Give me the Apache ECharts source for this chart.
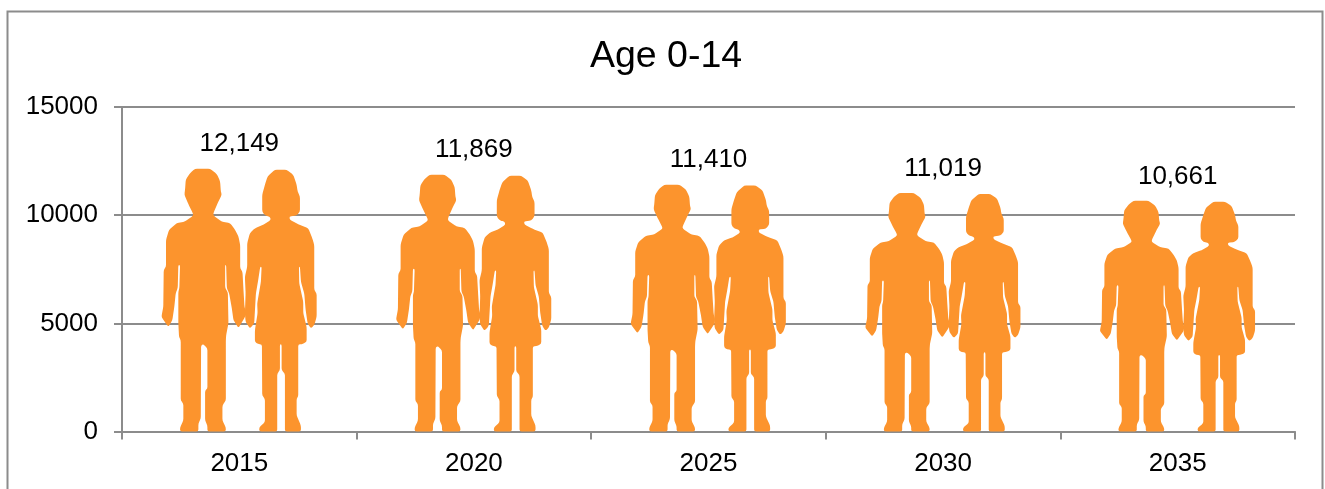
<!DOCTYPE html>
<html>
<head>
<meta charset="utf-8">
<style>html,body{margin:0;padding:0;background:#fff}#chart{width:1325px;height:489px}</style>
<script src="https://cdn.jsdelivr.net/npm/echarts@6/dist/echarts.min.js"></script>
</head>
<body>
<div id="chart"></div>
<script>
const years = ['2015', '2020', '2025', '2030', '2035'];
const population = [12149, 11869, 11410, 11019, 10661];
const yTicks = [0, 5000, 10000, 15000];

// Silhouette outlines as x,y vertices; the symbol is stretched to each bar's height
const boyOutline = '195,169 210,169 216.7,174.3 220,181.7 220.7,191.7 221.7,195 218.3,201.7 213.3,213.3 213.3,215.7 221.7,221.7 230,223.3 235,230 238.3,236.7 240,245 240,268.3 242.3,271.7 243.3,290 244.3,306.7 245.7,311.7 245,316.7 238.3,327.7 233.3,320 231.7,308.3 229,293.3 226.7,288.3 226,265 225,265 225,288 227.7,292 228.3,323 226,335 225.7,340 225.7,400 222.3,405 222.3,420 225.7,427 225.7,431 207.3,431 207.3,425 205,420 205,390 207.3,388.3 207.3,348.3 203.3,344 201,345 200.7,418 198.3,423 198.3,431 180,431 180,427 183.3,420 183.3,403 180.7,400 180.7,340 179,336.7 178.3,323 178.3,291.7 179.3,288.3 180,265 178.3,265 177.7,288 175.7,293 174.3,306.7 172.3,320 168.3,326.7 161.7,317.3 161.7,315 163.3,306.7 163.7,270 166,266.7 166,240 169,230 176.7,223.3 185,221.7 193.3,215.7 192.7,213.3 188.3,204.3 184.3,195 185,190 185.7,180 190,173.3';
const girlOutline = '275,170 286.7,170 293.3,175 296.7,185 297.7,191.7 300,196.7 300,211.7 296.7,215.7 289.3,216.7 290,220 298.3,224.3 308.3,228.3 312.3,238.3 314.3,245 314.3,290 316.7,293.3 316.7,316.7 314.3,325 311,328.3 307.7,323.3 305.7,310 304.3,293.3 301,281.7 300,266.7 299,266.7 299.3,283.3 303.3,301.7 303.3,313 306.7,326.7 306.7,341.7 301.7,344 298.3,344 298.3,396 296.7,398.3 296.7,415 301,425 301,431 285,431 285,373.3 281.7,370 281.7,344 280,344 280,370 277.3,373.3 277.3,431 259.3,431 259.3,427 265,421.7 265,398.3 262.3,395 262,344 258,344 255,341.7 255,330 257.7,313 257.3,303.3 261,281.7 261.7,266.7 260.3,266.7 258.3,280 256,293.3 254.3,323.3 250,328.3 245.7,321.7 245,313.3 245.7,293.3 245,276.7 247.3,266.7 247.3,243.3 250,233.3 255,228.3 263.3,225 271,220 270,216.7 265,215.7 262.3,211.7 262.3,195 265,185 267.7,176.7';

// Turns an outline into an SVG path whose corners are softly rounded
function roundedPath(outline, radius) {
  const pts = outline.split(' ').map(p => p.split(',').map(Number));
  const n = pts.length;
  let d = '';
  pts.forEach((p, i) => {
    const prev = pts[(i + n - 1) % n];
    const next = pts[(i + 1) % n];
    const cut = (a, b) => {
      const len = Math.hypot(b[0] - a[0], b[1] - a[1]);
      const t = Math.min(radius, len / 2) / len;
      return [a[0] + (b[0] - a[0]) * t, a[1] + (b[1] - a[1]) * t];
    };
    const s = cut(p, prev);
    const e = cut(p, next);
    d += (i ? 'L' : 'M') + s[0].toFixed(2) + ',' + s[1].toFixed(2) +
      ' Q' + p[0] + ',' + p[1] + ' ' + e[0].toFixed(2) + ',' + e[1].toFixed(2) + ' ';
  });
  return d + 'Z';
}

const boyShape = 'path://' + roundedPath(boyOutline, 2);
// The small first subpath keeps the girl's head one pixel below the bar top
const girlShape = 'path://M280,169 L281,169 Z ' + roundedPath(girlOutline, 2);

const orange = '#FC942D';
const gray = '#8C8C8C';
const fontFamily = '"Liberation Sans", Arial, sans-serif';

const chart = echarts.init(document.getElementById('chart'), null, { renderer: 'canvas' });

function figureSeries(name, shape, width, shift) {
  return {
    name,
    type: 'pictorialBar',
    data: population,
    symbol: shape,
    symbolSize: [width, '100%'],
    symbolPosition: 'start',
    symbolOffset: [shift, 0],
    barWidth: 84,
    barGap: '-100%',
    itemStyle: { color: orange },
    silent: true,
    z: 3
  };
}

chart.setOption({
  animation: false,
  backgroundColor: '#fff',
  title: {
    text: 'Age 0-14',
    left: 661,
    top: 33,
    textAlign: 'center',
    textStyle: { fontFamily, fontSize: 37.5, fontWeight: 'normal', color: '#000' }
  },
  graphic: [{
    type: 'rect',
    shape: { x: 7.5, y: 11.5, width: 1315, height: 500 },
    style: { fill: 'none', stroke: gray, lineWidth: 2 },
    silent: true
  }],
  grid: { left: 122, right: 30, top: 107, height: 324.5 },
  xAxis: {
    type: 'category',
    data: years,
    boundaryGap: true,
    axisLine: { lineStyle: { color: gray, width: 2 } },
    axisTick: { show: true, alignWithLabel: false, length: 8, lineStyle: { color: gray, width: 2 } },
    axisLabel: { color: '#000', fontFamily, fontSize: 26, margin: 19 },
    splitLine: { show: false }
  },
  yAxis: {
    type: 'value',
    min: yTicks[0],
    max: yTicks[yTicks.length - 1],
    interval: yTicks[1],
    axisLine: { show: true, lineStyle: { color: gray, width: 2 } },
    axisTick: { show: true, length: 8, lineStyle: { color: gray, width: 2 } },
    axisLabel: { color: '#000', fontFamily, fontSize: 26, margin: 24, padding: [3, 0, 0, 0], formatter: v => String(v) },
    splitLine: { show: true, lineStyle: { color: gray, width: 2 } }
  },
  series: [
    figureSeries('Boys', boyShape, 84, -35.6),
    figureSeries('Girls', girlShape, 71.7, 41.5),
    {
      name: 'Total',
      type: 'scatter',
      data: population,
      symbol: 'circle',
      symbolSize: 1,
      itemStyle: { color: 'transparent', opacity: 1 },
      silent: true,
      z: 4,
      label: {
        show: true,
        position: 'top',
        distance: 11,
        color: '#000',
        fontFamily,
        fontSize: 26,
        formatter: p => p.value.toLocaleString('en-US')
      }
    }
  ]
});
</script>
</body>
</html>
